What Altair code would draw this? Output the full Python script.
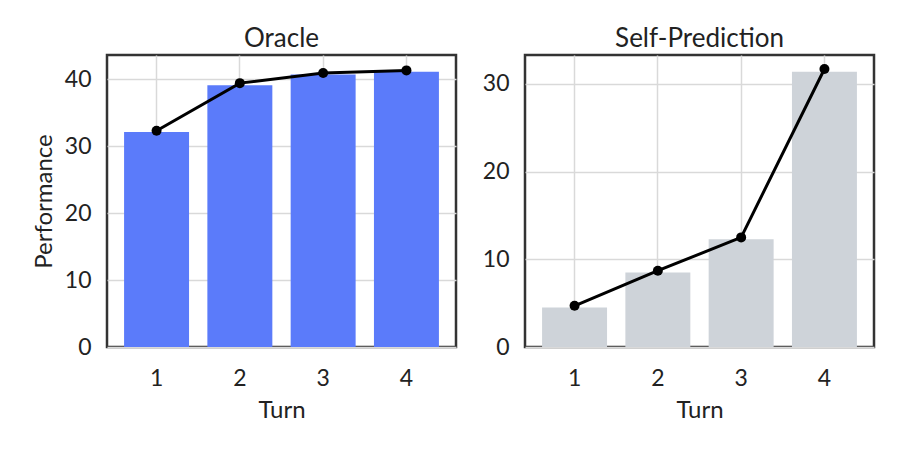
import altair as alt
import pandas as pd

turns = ["1", "2", "3", "4"]
oracle_bar = [32.1, 39.1, 40.7, 41.1]
oracle_line = [32.3, 39.4, 40.9, 41.3]
self_bar = [4.5, 8.5, 12.3, 31.4]
self_line = [4.7, 8.7, 12.5, 31.7]

FONT = "Lato"

def panel(title, bars, line, color, ymax, ytitle):
    df = pd.DataFrame({"Turn": turns, "bar": bars, "line": line})
    x = alt.X("Turn:O", title="Turn",
              axis=alt.Axis(labelAngle=0, grid=True, ticks=False, labelPadding=20,
                            domain=False, titlePadding=8),
              scale=alt.Scale(paddingInner=0.22, paddingOuter=0.205))
    yscale = alt.Scale(domain=[0, ymax], nice=False)
    vals = [0, 10, 20, 30, 40] if ymax > 40 else [0, 10, 20, 30]
    if ytitle is None:
        yaxis = alt.Axis(values=vals, ticks=False, labelPadding=16, domain=False,
                         grid=True, title=None)
    else:
        yaxis = alt.Axis(values=vals, ticks=False, labelPadding=16, domain=False,
                         grid=True, titlePadding=8, title=ytitle)
    base = alt.Chart(df)
    b = base.mark_bar(color=color).encode(
        x=x, y=alt.Y("bar:Q", scale=yscale, axis=yaxis))
    l = base.mark_line(color="black", strokeWidth=3).encode(
        x="Turn:O", y=alt.Y("line:Q", scale=yscale))
    p = base.mark_point(color="black", filled=True, size=100, opacity=1).encode(
        x="Turn:O", y=alt.Y("line:Q", scale=yscale))
    return alt.layer(b, l, p).properties(
        width=349, height=292,
        title=alt.TitleParams(title, fontSize=26, font=FONT, fontWeight="normal",
                              color="#222222", offset=3))

left = panel("Oracle", oracle_bar, oracle_line, "#5B7BFA", 43.6, "Performance")
right = panel("Self-Prediction", self_bar, self_line, "#CED3D9", 33.3, None)

chart = alt.hconcat(left, right, spacing=23).configure_view(
    stroke="#333333", strokeWidth=2.5
).configure_axis(
    labelFont=FONT, titleFont=FONT, labelFontSize=23, titleFontSize=24,
    labelColor="#222222", titleColor="#222222", titleFontWeight="normal",
    gridColor="#d9d9d9", gridWidth=1.5
).properties(background="white", padding={"left": 23, "top": 16, "right": 5, "bottom": 5})

chart.save("out.html", embed_options={"renderer": "svg", "actions": False})
